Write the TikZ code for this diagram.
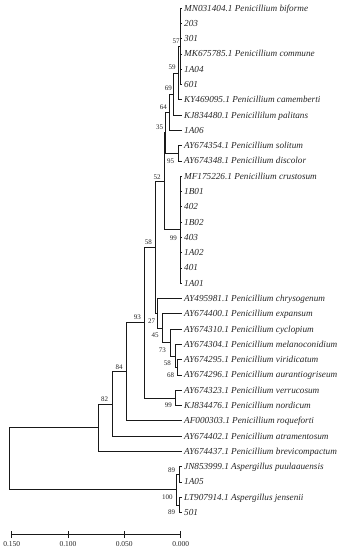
\documentclass[tikz,border=0pt]{standalone}
\usepackage{fontspec}
\setmainfont{Liberation Serif}
\begin{document}
\begin{tikzpicture}[x=1pt,y=-1pt,
  br/.style={line width=0.7pt, black!90},
  leaflab/.style={anchor=base west, inner sep=0pt, text=black!85, font=\fontsize{9.2}{9.2}\selectfont\itshape},
  boot/.style={inner sep=0pt, text=black!85, font=\fontsize{7}{7}\selectfont},
  axlab/.style={inner sep=0pt, text=black!85, font=\fontsize{7.5}{7.5}\selectfont}]
\useasboundingbox (0,0) rectangle (337,550);
\def\tipx{181.5}
% leaves
\foreach \i/\t in {
 1/{MN031404.1 Penicillium biforme},
 2/{203},
 3/{301},
 4/{MK675785.1 Penicillium commune},
 5/{1A04},
 6/{601},
 7/{KY469095.1 Penicillium camemberti},
 8/{KJ834480.1 Penicillilum palitans},
 9/{1A06},
 10/{AY674354.1 Penicillium solitum},
 11/{AY674348.1 Penicillium discolor},
 12/{MF175226.1 Penicillium crustosum},
 13/{1B01},
 14/{402},
 15/{1B02},
 16/{403},
 17/{1A02},
 18/{401},
 19/{1A01},
 20/{AY495981.1 Penicillium chrysogenum},
 21/{AY674400.1 Penicillium expansum},
 22/{AY674310.1 Penicillium cyclopium},
 23/{AY674304.1 Penicillium melanoconidium},
 24/{AY674295.1 Penicillium viridicatum},
 25/{AY674296.1 Penicillium aurantiogriseum},
 26/{AY674323.1 Penicillium verrucosum},
 27/{KJ834476.1 Penicillium nordicum},
 28/{AF000303.1 Penicillium roqueforti},
 29/{AY674402.1 Penicillium atramentosum},
 30/{AY674437.1 Penicillium brevicompactum},
 31/{JN853999.1 Aspergillus puulaauensis},
 32/{1A05},
 33/{LT907914.1 Aspergillus jensenii},
 34/{501}} {
  \coordinate (L\i) at (\tipx, {8+(\i-1)*15.29});
  \node[leaflab] (T\i) at (184, {8+(\i-1)*15.29+3}) {\t};
}
% internal nodes
\coordinate (n57)  at (180.3, 46.25);
\coordinate (n59)  at (178.0, 73.0);
\coordinate (n69)  at (173.5, 94.0);
\coordinate (n64)  at (169.5, 112.15);
\coordinate (n95)  at (178.0, 153.25);
\coordinate (n35)  at (165.5, 132.7);
\coordinate (n99c) at (180.3, 229.7);
\coordinate (n52)  at (164.0, 181.2);
\coordinate (n68)  at (177.0, 367.35);
\coordinate (n58b) at (175.0, 355.9);
\coordinate (n73)  at (170.0, 342.5);
\coordinate (n45)  at (162.3, 328.15);
\coordinate (n27)  at (157.0, 313.3);
\coordinate (n58)  at (155.7, 247.25);
\coordinate (n99v) at (175.7, 397.95);
\coordinate (n93)  at (144.5, 322.6);
\coordinate (n84)  at (126.7, 371.7);
\coordinate (n82)  at (112.0, 403.9);
\coordinate (npen) at (98.7, 427.65);
\coordinate (n89a) at (179.5, 474.35);
\coordinate (n89b) at (179.5, 504.95);
\coordinate (n100) at (176.0, 489.65);
\coordinate (root) at (9.3, 458.65);
% branches
\foreach \c in {1,...,6} \draw[br] (n57) |- (L\c);
\draw[br] (n59) |- (n57);  \draw[br] (n59) |- (L7);
\draw[br] (n69) |- (n59);  \draw[br] (n69) |- (L8);
\draw[br] (n64) |- (n69);  \draw[br] (n64) |- (L9);
\draw[br] (n95) |- (L10);  \draw[br] (n95) |- (L11);
\draw[br] (n35) |- (n64);  \draw[br] (n35) |- (n95);
\foreach \c in {12,...,19} \draw[br] (n99c) |- (L\c);
\draw[br] (n52) |- (n35);  \draw[br] (n52) |- (n99c);
\draw[br] (n68) |- (L24);  \draw[br] (n68) |- (L25);
\draw[br] (n58b) |- (L23); \draw[br] (n58b) |- (n68);
\draw[br] (n73) |- (L22);  \draw[br] (n73) |- (n58b);
\draw[br] (n45) |- (L21);  \draw[br] (n45) |- (n73);
\draw[br] (n27) |- (L20);  \draw[br] (n27) |- (n45);
\draw[br] (n58) |- (n52);  \draw[br] (n58) |- (n27);
\draw[br] (n99v) |- (L26); \draw[br] (n99v) |- (L27);
\draw[br] (n93) |- (n58);  \draw[br] (n93) |- (n99v);
\draw[br] (n84) |- (n93);  \draw[br] (n84) |- (L28);
\draw[br] (n82) |- (n84);  \draw[br] (n82) |- (L29);
\draw[br] (npen) |- (n82); \draw[br] (npen) |- (L30);
\draw[br] (n89a) |- (L31); \draw[br] (n89a) |- (L32);
\draw[br] (n89b) |- (L33); \draw[br] (n89b) |- (L34);
\draw[br] (n100) |- (n89a); \draw[br] (n100) |- (n89b);
\draw[br] (root) |- (npen); \draw[br] (root) |- (n100);
% bootstrap values
\node[boot] (b57)  at (176.0, 41.0)  {57};
\node[boot] (b59)  at (172.0, 67.3)  {59};
\node[boot] (b69)  at (168.3, 88.3)  {69};
\node[boot] (b64)  at (163.3, 107.5) {64};
\node[boot] (b35)  at (159.5, 127.5) {35};
\node[boot] (b95)  at (170.7, 161.0) {95};
\node[boot] (b52)  at (157.0, 177.0) {52};
\node[boot] (b99c) at (173.3, 238.0) {99};
\node[boot] (b58)  at (148.3, 242.3) {58};
\node[boot] (b27)  at (151.7, 320.7) {27};
\node[boot] (b45)  at (155.0, 335.7) {45};
\node[boot] (b73)  at (162.3, 350.0) {73};
\node[boot] (b58b) at (167.3, 363.3) {58};
\node[boot] (b68)  at (170.7, 375.0) {68};
\node[boot] (b93)  at (137.3, 317.3) {93};
\node[boot] (b84)  at (119.0, 366.7) {84};
\node[boot] (b82)  at (104.7, 399.0) {82};
\node[boot] (b99v) at (168.3, 405.7) {99};
\node[boot] (b89a) at (171.7, 470.0) {89};
\node[boot] (b100) at (167.3, 497.3) {100};
\node[boot] (b89b) at (171.7, 512.3) {89};
% scale axis
\coordinate (a0) at (180.7, 534.7);
\coordinate (a1) at (124.3, 534.7);
\coordinate (a2) at (68.0, 534.7);
\coordinate (a3) at (11.7, 534.7);
\draw[br] (a3) -- (a0);
\foreach \k in {0,...,3} \draw[br] (a\k) ++(0,-3.5) -- ++(0,7);
\node[axlab] (x0) at (180.7, 544) {0.000};
\node[axlab] (x1) at (124.3, 544) {0.050};
\node[axlab] (x2) at (68.0, 544) {0.100};
\node[axlab] (x3) at (11.7, 544) {0.150};
\end{tikzpicture}
\end{document}
